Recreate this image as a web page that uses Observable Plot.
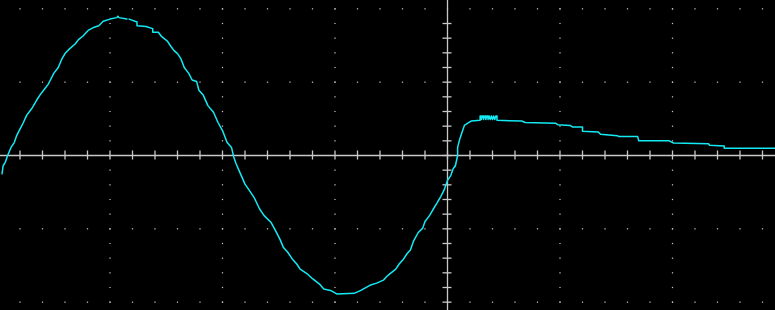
<!DOCTYPE html>
<html>
<head>
<meta charset="utf-8">
<script src="https://cdn.jsdelivr.net/npm/d3@7"></script>
<script src="https://cdn.jsdelivr.net/npm/@observablehq/plot@0.6"></script>
<style>
  html, body { margin: 0; padding: 0; background: #000; }
  #chart { width: 775px; height: 310px; overflow: hidden; }
</style>
</head>
<body>
<div id="chart"></div>
<script>
// Trace readings: [time (div), voltage (div)]
const sineRise = [
  [-3.96,-0.25],[-3.95,-0.14],[-3.93,-0.09],[-3.91,0.00],[-3.88,0.11],[-3.85,0.18],
  [-3.83,0.27],[-3.80,0.36],[-3.77,0.45],[-3.74,0.55],[-3.70,0.63],[-3.68,0.68],
  [-3.65,0.76],[-3.62,0.83],[-3.59,0.89],[-3.55,0.97],[-3.53,1.03],[-3.50,1.12],
  [-3.46,1.20],[-3.43,1.31],[-3.40,1.39],[-3.37,1.44],[-3.31,1.52],[-3.28,1.58],
  [-3.24,1.63],[-3.19,1.71],[-3.14,1.75],[-3.10,1.77],[-3.06,1.83],[-3.00,1.86],
  [-2.94,1.88],[-2.93,1.90],[-2.92,1.88],[-2.85,1.86]
];
const sineFall = [
  [-2.83,1.86],[-2.76,1.82],[-2.76,1.77],[-2.68,1.76],[-2.62,1.73],[-2.62,1.68],
  [-2.57,1.68],[-2.54,1.62],[-2.49,1.56],[-2.46,1.49],[-2.43,1.43],[-2.40,1.39],
  [-2.37,1.32],[-2.34,1.20],[-2.30,1.12],[-2.27,1.03],[-2.23,1.01],[-2.21,0.89],
  [-2.17,0.82],[-2.13,0.68],[-2.08,0.59],[-2.04,0.45],[-2.00,0.34],[-1.96,0.18],
  [-1.92,0.11],[-1.90,-0.02],[-1.88,-0.11],[-1.84,-0.25],[-1.80,-0.39],[-1.76,-0.48],
  [-1.72,-0.57],[-1.67,-0.73],[-1.63,-0.82],[-1.57,-0.91],[-1.53,-1.02],[-1.49,-1.14],
  [-1.46,-1.25],[-1.42,-1.32],[-1.38,-1.41],[-1.34,-1.48],[-1.31,-1.55],[-1.25,-1.61],
  [-1.20,-1.68],[-1.14,-1.75],[-1.10,-1.82],[-1.04,-1.84],[-0.98,-1.89],[-0.83,-1.88],
  [-0.77,-1.84],[-0.69,-1.77],[-0.63,-1.74],[-0.57,-1.70],[-0.54,-1.65],[-0.51,-1.61],
  [-0.46,-1.55],[-0.43,-1.48],[-0.39,-1.41],[-0.36,-1.34],[-0.33,-1.29],[-0.30,-1.16],
  [-0.26,-1.05],[-0.22,-0.99],[-0.20,-0.90],[-0.16,-0.82],[-0.13,-0.74],[-0.09,-0.64],
  [-0.06,-0.56],[-0.03,-0.47],[0.00,-0.34],[0.03,-0.27],[0.05,-0.18],[0.07,-0.14]
];
const stepResponse = [
  [0.07,-0.14],[0.09,0.00],[0.09,0.11],[0.11,0.23],[0.13,0.32],[0.15,0.41],[0.18,0.44],
  [0.21,0.47],[0.29,0.48],[0.29,0.54],[0.30,0.54],[0.30,0.49],[0.31,0.54],[0.32,0.54],
  [0.32,0.49],[0.33,0.54],[0.34,0.54],[0.34,0.49],[0.35,0.54],[0.36,0.54],[0.36,0.49],
  [0.37,0.54],[0.38,0.49],[0.39,0.54],[0.40,0.49],[0.41,0.54],[0.42,0.49],[0.43,0.54],
  [0.44,0.54],[0.44,0.48],[0.66,0.47],
  [0.69,0.45],[0.96,0.44],[0.98,0.42],[1.09,0.41],[1.11,0.39],[1.20,0.39],[1.20,0.33],
  [1.34,0.32],[1.36,0.29],[1.51,0.27],[1.52,0.26],[1.69,0.26],[1.70,0.20],[1.97,0.20],
  [2.01,0.17],[2.32,0.16],[2.33,0.14],[2.46,0.13],[2.46,0.10],[2.92,0.10]
];

// Graticule: major divisions and minor subdivisions (in divisions)
const majorX = [-3, -2, -1, 1, 2];
const majorY = [-2, -1, 1, 2];
const minorX = d3.range(-20, 16).map(i => +(i * 0.2).toFixed(1));
const minorY = d3.range(-11, 12).map(i => +(i * 0.2).toFixed(1));
const axisTicksY = minorY.filter(v => v !== 2);

const dotsRows = majorY.flatMap(y => minorX.map(x => ({x, y})));
const dotsCols = majorX.flatMap(x => minorY.map(y => ({x, y})));

const traceColor = "#14eaf4";
const gridColor = "#c8c8c8";

const toRows = s => s.map(([t, v]) => ({t, v}));
const traceOpts = { x: "t", y: "v", stroke: traceColor, strokeWidth: 1.5, curve: "linear" };

const chart = Plot.plot({
  width: 775,
  height: 310,
  margin: 0,
  style: { background: "#000" },
  x: { domain: [-447 / 112.5, 328 / 112.5], axis: null },
  y: { domain: [-2.1137, 2.1137], axis: null },
  marks: [
    Plot.dot(dotsRows, { x: "x", y: "y", r: 0.7, symbol: "square", fill: gridColor, stroke: null }),
    Plot.dot(dotsCols, { x: "x", y: "y", r: 0.7, symbol: "square", fill: gridColor, stroke: null }),
    Plot.ruleY([0], { stroke: gridColor, strokeWidth: 1.3 }),
    Plot.ruleX([0], { stroke: gridColor, strokeWidth: 1.3 }),
    Plot.ruleX(minorX, { x: d => d, y1: -0.062, y2: 0.062, stroke: gridColor, strokeWidth: 1.3 }),
    Plot.ruleY(axisTicksY, { y: d => d, x1: -0.04, x2: 0.04, stroke: gridColor, strokeWidth: 1.3 }),
    Plot.line(toRows(sineRise), traceOpts),
    Plot.line(toRows(sineFall), traceOpts),
    Plot.line(toRows(stepResponse), traceOpts)
  ]
});
document.getElementById("chart").appendChild(chart);
</script>
</body>
</html>
